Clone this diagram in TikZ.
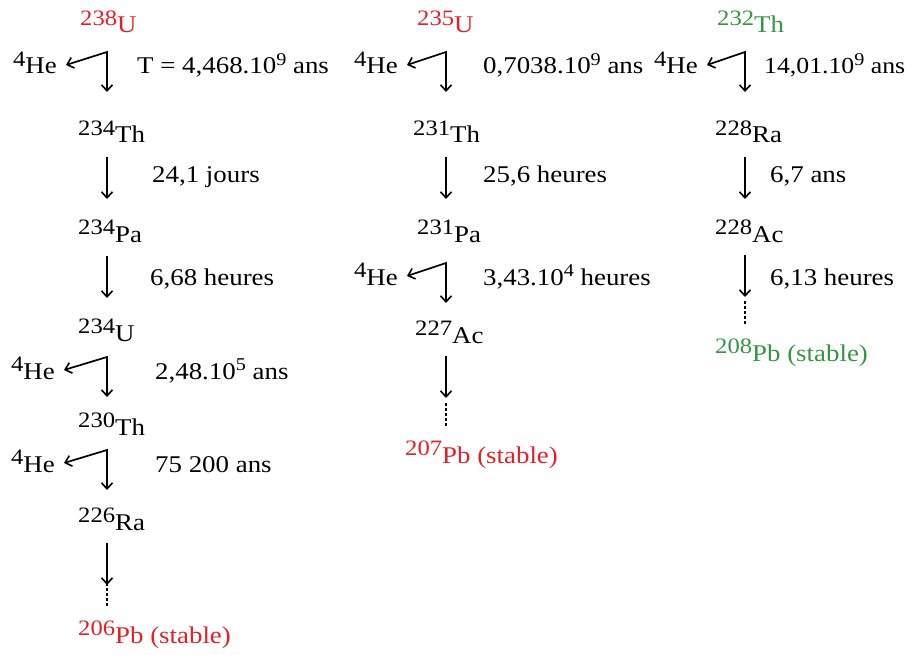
\documentclass[tikz,border=0pt]{standalone}
\usepackage{fontspec}
\setmainfont{Liberation Serif}
\newfontfamily\garfont[FakeStretch=1.12]{Liberation Serif}
\usetikzlibrary{arrows.meta,calc}
\definecolor{nred}{RGB}{226,32,40}
\definecolor{ngreen}{RGB}{52,150,64}
\newcommand{\up}[1]{\raisebox{7.5pt}{\fontsize{22}{22}\selectfont #1}}
\newcommand{\expo}[1]{\raisebox{8.5pt}{\fontsize{18}{18}\selectfont #1}}
\newcommand{\nucl}[2]{\up{#1}#2}
\tikzset{
  txt/.style={inner sep=0pt, font=\garfont\fontsize{24}{26}\selectfont},
  nuc/.style={txt, anchor=base west},
  hel/.style={txt, anchor=base east},
  lab/.style={txt, anchor=base west},
  tip/.style={Straight Barb[length=6pt,width=11pt,line width=1.6pt]},
  arr/.style={line width=1.7pt, -{Straight Barb[length=6pt,width=11pt,line width=1.6pt]}},
  bent/.style={line width=1.7pt, line join=miter, {Straight Barb[length=6pt,width=11pt,line width=1.6pt]}-{Straight Barb[length=6pt,width=11pt,line width=1.6pt]}},
  dots/.style={line width=1.7pt, dash pattern=on 2.5pt off 2.5pt},
}
% vertical decay arrow between two nuclides in column #3
\newcommand{\decay}[3]{\draw[arr] ($(#1.base -| #3)+(0,14)$) -- ($(#2.base -| #3)+(0,-43)$);}
% alpha decay: bent arrow, He emitted to the left, descendant below
\newcommand{\alphadk}[2]{\draw[bent] ($(#1.base east)+(9,-9)$) -- ($(#1.base -| #2)+(0,-22)$) -- ($(#1.base -| #2)+(0,18)$);}
% last arrow then dotted continuation towards the stable lead
\newcommand{\tolead}[3]{\draw[arr] ($(#1.base -| #3)+(0,13)$) -- ($(#1.base -| #3)+(0,55)$);
  \draw[dots] ($(#2.base -| #3)+(0,-60)$) -- ($(#2.base -| #3)+(0,-37)$);}
\begin{document}
\begin{tikzpicture}[x=1pt,y=-1pt]
\useasboundingbox (0,0) rectangle (910,655);
\coordinate (c1) at (107,0);
\coordinate (c2) at (446,0);
\coordinate (c3) at (745,0);
% ---------- column 1 : 238U ----------
\node[nuc, text=nred] (u238) at (80,33) {\nucl{238}{U}};
\node[hel] (he1) at (57,74) {\nucl{4}{He}};
\node[lab] (t1) at (137,74) {T = 4,468.10\expo{9} ans};
\node[nuc] (th234) at (78,143) {\nucl{234}{Th}};
\node[lab] (t2) at (152,183) {24,1 jours};
\node[nuc] (pa234) at (78,242) {\nucl{234}{Pa}};
\node[lab] (t3) at (150,285) {6,68 heures};
\node[nuc] (u234) at (78,341) {\nucl{234}{U}};
\node[hel] (he2) at (55,379) {\nucl{4}{He}};
\node[lab] (t4) at (155,379) {2,48.10\expo{5} ans};
\node[nuc] (th230) at (78,435) {\nucl{230}{Th}};
\node[hel] (he3) at (55,472) {\nucl{4}{He}};
\node[lab] (t5) at (155,472) {75 200 ans};
\node[nuc] (ra226) at (78,530) {\nucl{226}{Ra}};
\node[nuc, text=nred] (pb206) at (78,643) {\nucl{206}{Pb} (stable)};
\alphadk{he1}{c1}
\decay{th234}{pa234}{c1}
\decay{pa234}{u234}{c1}
\alphadk{he2}{c1}
\alphadk{he3}{c1}
\tolead{ra226}{pb206}{c1}
% ---------- column 2 : 235U ----------
\node[nuc, text=nred] (u235) at (417,33) {\nucl{235}{U}};
\node[hel] (he4) at (398,74) {\nucl{4}{He}};
\node[lab] (t6) at (483,74) {0,7038.10\expo{9} ans};
\node[nuc] (th231) at (413,143) {\nucl{231}{Th}};
\node[lab] (t7) at (483,183) {25,6 heures};
\node[nuc] (pa231) at (417,242) {\nucl{231}{Pa}};
\node[hel] (he5) at (398,285) {\nucl{4}{He}};
\node[lab] (t8) at (483,285) {3,43.10\expo{4} heures};
\node[nuc] (ac227) at (415,343) {\nucl{227}{Ac}};
\node[nuc, text=nred] (pb207) at (405,463) {\nucl{207}{Pb} (stable)};
\alphadk{he4}{c2}
\decay{th231}{pa231}{c2}
\alphadk{he5}{c2}
\tolead{ac227}{pb207}{c2}
% ---------- column 3 : 232Th ----------
\node[nuc, text=ngreen] (th232) at (717,33) {\nucl{232}{Th}};
\node[hel] (he6) at (698,74) {\nucl{4}{He}};
\node[lab, font=\garfont\fontsize{23}{25}\selectfont] (t9) at (764,74) {14,01.10\expo{9} ans};
\node[nuc] (ra228) at (715,143) {\nucl{228}{Ra}};
\node[lab] (t10) at (770,183) {6,7 ans};
\node[nuc] (ac228) at (715,242) {\nucl{228}{Ac}};
\node[lab] (t11) at (770,285) {6,13 heures};
\node[nuc, text=ngreen] (pb208) at (715,361) {\nucl{208}{Pb} (stable)};
\alphadk{he6}{c3}
\decay{ra228}{ac228}{c3}
\tolead{ac228}{pb208}{c3}
\end{tikzpicture}
\end{document}
